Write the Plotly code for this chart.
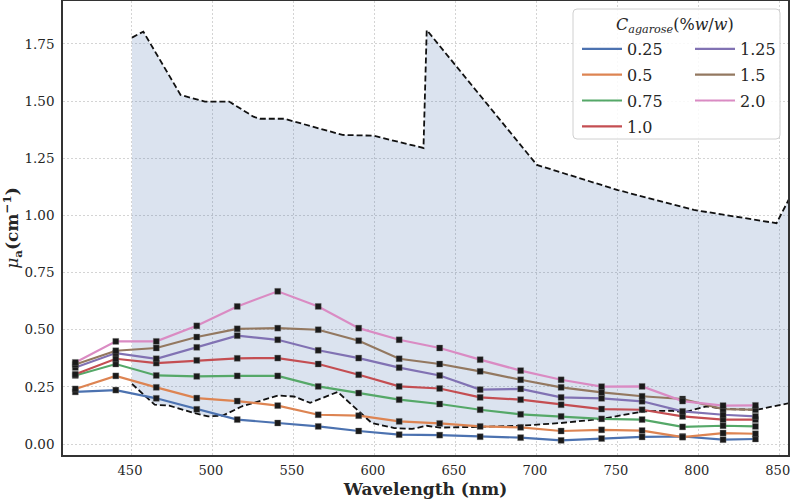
import plotly.graph_objects as go

# ---------------- data ----------------
wavelength = [415, 440, 465, 490, 515, 540, 565, 590, 615, 640, 665, 690, 715, 740, 765, 790, 815, 835]
c_025 = [0.228, 0.236, 0.200, 0.152, 0.107, 0.092, 0.077, 0.057, 0.041, 0.039, 0.032, 0.028, 0.016, 0.024, 0.031, 0.033, 0.019, 0.022]
c_05 = [0.241, 0.298, 0.248, 0.201, 0.188, 0.168, 0.128, 0.124, 0.099, 0.090, 0.077, 0.073, 0.057, 0.062, 0.059, 0.030, 0.048, 0.045]
c_075 = [0.300, 0.350, 0.300, 0.296, 0.298, 0.298, 0.252, 0.223, 0.194, 0.175, 0.150, 0.130, 0.121, 0.110, 0.107, 0.075, 0.080, 0.077]
c_10 = [0.305, 0.373, 0.354, 0.366, 0.375, 0.376, 0.350, 0.303, 0.252, 0.243, 0.204, 0.194, 0.172, 0.153, 0.150, 0.121, 0.107, 0.107]
c_125 = [0.335, 0.398, 0.373, 0.423, 0.474, 0.456, 0.410, 0.376, 0.334, 0.300, 0.238, 0.241, 0.204, 0.200, 0.187, 0.143, 0.128, 0.121]
c_15 = [0.348, 0.408, 0.420, 0.468, 0.504, 0.507, 0.500, 0.452, 0.373, 0.350, 0.318, 0.281, 0.248, 0.226, 0.209, 0.197, 0.153, 0.150]
c_20 = [0.357, 0.449, 0.449, 0.517, 0.602, 0.668, 0.602, 0.507, 0.456, 0.420, 0.369, 0.321, 0.281, 0.251, 0.252, 0.188, 0.168, 0.169]
series_labels = ["0.25", "0.5", "0.75", "1.0", "1.25", "1.5", "2.0"]
series_values = [c_025, c_05, c_075, c_10, c_125, c_15, c_20]

upper_wl = [450, 457, 480, 495, 510, 525, 529, 544, 580, 599, 630, 632, 700, 750, 797, 848, 860]
upper_mu = [1.778, 1.804, 1.527, 1.498, 1.498, 1.432, 1.423, 1.423, 1.352, 1.349, 1.295, 1.811, 1.221, 1.111, 1.024, 0.966, 1.13]
lower_wl = [450, 464, 473, 488, 497, 506, 518, 529, 540, 550, 560, 577, 598, 612, 623, 632, 640, 665, 690, 715, 740, 766, 783, 791, 805, 815, 836, 860]
lower_mu = [0.263, 0.172, 0.168, 0.136, 0.121, 0.124, 0.165, 0.190, 0.212, 0.208, 0.180, 0.228, 0.092, 0.070, 0.066, 0.080, 0.072, 0.075, 0.080, 0.092, 0.110, 0.143, 0.146, 0.139, 0.165, 0.153, 0.150, 0.185]

x_ticks = [450, 500, 550, 600, 650, 700, 750, 800, 850]
y_ticks = [0.00, 0.25, 0.50, 0.75, 1.00, 1.25, 1.50, 1.75]

colors = ["#4C72B0", "#DD8452", "#55A868", "#C44E52", "#8172B3", "#937860", "#DA8BC3"]
FONT = "DejaVu Serif"

fig = go.Figure()

# shaded band between the two dashed curves
fig.add_trace(go.Scatter(
    x=upper_wl + lower_wl[::-1], y=upper_mu + lower_mu[::-1],
    mode="none", fill="toself", fillcolor="rgba(76,114,176,0.2)",
    showlegend=False, hoverinfo="skip"))
fig.add_trace(go.Scatter(x=upper_wl, y=upper_mu, mode="lines",
                         line=dict(color="#111111", width=1.8, dash="6px,3px"), showlegend=False))
fig.add_trace(go.Scatter(x=lower_wl, y=lower_mu, mode="lines",
                         line=dict(color="#111111", width=1.8, dash="6px,3px"), showlegend=False))

for i, (lab, vals) in enumerate(zip(series_labels, series_values)):
    fig.add_trace(go.Scatter(
        x=wavelength, y=vals, mode="lines", name=lab, legendgroup=f"g{i}",
        line=dict(color=colors[i], width=2.2),
        legend="legend" if i < 4 else "legend2"))
for i, vals in enumerate(series_values):
    fig.add_trace(go.Scatter(
        x=wavelength, y=vals, mode="markers", showlegend=False,
        marker=dict(symbol="square", size=6, color="#1a1a1a",
                    line=dict(width=0.6, color="rgba(120,120,120,0.6)"))))

W, H = 791, 504
ml, mr, mt, mb = 63, 3, 1, 49
pw, ph = W - ml - mr, H - mt - mb

def px(xp):
    return (xp - ml) / pw

def py(yp):
    return (H - mb - yp) / ph

# legend frame (rounded rectangle)
x0, x1, y0, y1 = px(573), px(780), py(139), py(9)
rx, ry = 4 / pw, 4 / ph
path = (f"M {x0+rx},{y0} L {x1-rx},{y0} Q {x1},{y0} {x1},{y0+ry} L {x1},{y1-ry} "
        f"Q {x1},{y1} {x1-rx},{y1} L {x0+rx},{y1} Q {x0},{y1} {x0},{y1-ry} "
        f"L {x0},{y0+ry} Q {x0},{y0} {x0+rx},{y0} Z")
fig.add_shape(type="path", path=path, xref="paper", yref="paper",
              fillcolor="rgba(255,255,255,0.85)", line=dict(color="#d0d0d0", width=1),
              layer="above")
fig.add_annotation(text="<i>C</i><sub><i>agarose</i></sub>(%<i>w</i>/<i>w</i>)",
                   x=px(675), y=py(26), xref="paper", yref="paper", showarrow=False,
                   xanchor="center", yanchor="middle",
                   font=dict(family=FONT, size=16, color="#262626"))

legend_common = dict(bgcolor="rgba(0,0,0,0)", borderwidth=0, orientation="v",
                     font=dict(family=FONT, size=16, color="#262626"),
                     xanchor="left", yanchor="top", tracegroupgap=2, itemwidth=40)
fig.update_layout(
    legend=dict(x=px(577), y=py(32), **legend_common),
    legend2=dict(x=px(690), y=py(32), **legend_common),
)

fig.update_layout(
    width=W, height=H,
    margin=dict(l=ml, r=mr, t=mt, b=mb, autoexpand=False),
    paper_bgcolor="white", plot_bgcolor="white",
    font=dict(family=FONT, color="#262626"),
    xaxis=dict(range=[407.4, 855.1], tickvals=x_ticks, ticktext=[str(v) for v in x_ticks],
               automargin=False, ticklabeloverflow="allow", ticklabelshift=-2,
               showgrid=True, gridcolor="#d4d4d4", griddash="2px,2px", gridwidth=1,
               zeroline=False, showline=True, mirror=True, linecolor="#333333", linewidth=1.5,
               ticks="", ticklabelstandoff=3, tickfont=dict(family=FONT, size=13, color="#262626"),
               title=dict(text="<b>Wavelength (nm)</b>", font=dict(family=FONT, size=17, color="#262626"),
                          standoff=6)),
    yaxis=dict(range=[-0.048, 1.938], tickvals=y_ticks, ticktext=[f"{v:.2f}" for v in y_ticks],
               automargin=False,
               showgrid=True, gridcolor="#d4d4d4", griddash="2px,2px", gridwidth=1,
               zeroline=False, showline=True, mirror=True, linecolor="#333333", linewidth=1.5,
               ticks="", ticklabelstandoff=4, tickfont=dict(family=FONT, size=13.5, color="#262626"),
               title=dict(text="<i>μ</i><sub><b>a</b></sub><b>(cm</b><sup><b>−1</b></sup><b>)</b>",
                          font=dict(family=FONT, size=17, color="#262626"), standoff=8)),
)

fig.write_html("out.html")
